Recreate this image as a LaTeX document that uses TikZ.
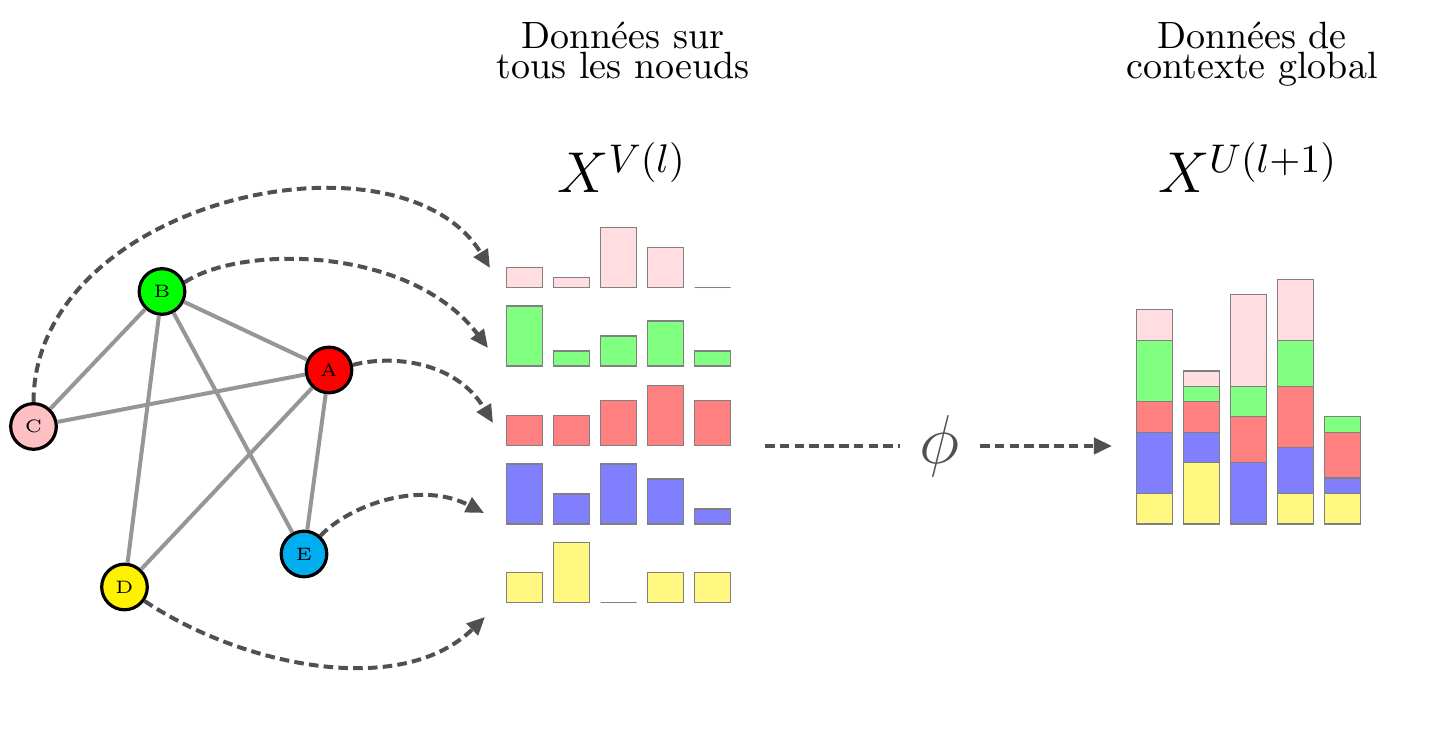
\documentclass[tikz,border=0pt]{standalone}
\usetikzlibrary{arrows.meta}
\definecolor{cpink}{RGB}{255,192,196}
\definecolor{barpink}{RGB}{255,221,225}
\definecolor{bargreen}{RGB}{128,255,128}
\definecolor{barred}{RGB}{255,128,128}
\definecolor{barblue}{RGB}{128,128,255}
\definecolor{baryellow}{RGB}{255,247,128}
\definecolor{nodeyellow}{RGB}{255,242,0}
\definecolor{nodecyan}{RGB}{0,174,239}
\definecolor{edgegray}{RGB}{150,150,150}
\definecolor{flowgray}{RGB}{80,80,80}
\begin{document}
\begin{tikzpicture}[x=0.25pt,y=-0.25pt,
  vertex/.style={circle,draw=black,line width=0.8pt,minimum size=11.4pt,inner sep=0pt,font=\fontsize{4.5}{5}\selectfont},
  edge/.style={draw=edgegray,line width=1pt},
  flow/.style={draw=flowgray,line width=1pt,dash pattern=on 2.4pt off 1.3pt},
  flowtip/.style={-{Triangle[length=4.5pt,width=4pt]}},
  bar/.style={draw=gray,line width=0.3pt},
  title/.style={align=center,inner sep=0pt,anchor=north,font=\fontsize{9.5}{7.6}\selectfont},
  mathlabel/.style={inner sep=0pt,anchor=base,font=\fontsize{14}{16}\selectfont}
]
\useasboundingbox (0,0) rectangle (1429,755);

% titles
\node[title] (t1) at (623,21) {Données sur\\tous les noeuds};
\node[title] (t2) at (1252,21) {Données de\\contexte global};
\node[mathlabel] (xv) at (622,193) {$X^{V(l)}$};
\node[mathlabel] (xu) at (1248,193) {$X^{U(l+1)}$};

% graph nodes
\node[vertex,fill=red] (A) at (329,370) {A};
\node[vertex,fill=green] (B) at (162,291.5) {B};
\node[vertex,fill=cpink] (C) at (33.5,426.5) {C};
\node[vertex,fill=nodeyellow] (D) at (124.5,587) {D};
\node[vertex,fill=nodecyan] (E) at (304,554) {E};

% graph edges
\draw[edge] (B) -- (C);
\draw[edge] (B) -- (D);
\draw[edge] (B) -- (E);
\draw[edge] (B) -- (A);
\draw[edge] (A) -- (C);
\draw[edge] (A) -- (D);
\draw[edge] (A) -- (E);

% per-node feature bars
\foreach \v [count=\i from 0] in {2,1,6,4,0}
  \draw[bar,fill=barpink] ({506.7+47*\i},287.7) rectangle ++(36,{-10*\v});
\foreach \v [count=\i from 0] in {4,1,2,3,1}
  \draw[bar,fill=bargreen] ({506.7+47*\i},366) rectangle ++(36,{-15*\v});
\foreach \v [count=\i from 0] in {2,2,3,4,3}
  \draw[bar,fill=barred] ({506.7+47*\i},445.3) rectangle ++(36,{-15*\v});
\foreach \v [count=\i from 0] in {4,2,4,3,1}
  \draw[bar,fill=barblue] ({506.7+47*\i},524) rectangle ++(36,{-15*\v});
\foreach \v [count=\i from 0] in {2,4,0,2,2}
  \draw[bar,fill=baryellow] ({506.7+47*\i},602.3) rectangle ++(36,{-15*\v});

% stacked global bars
\foreach \i/\a/\b/\c/\d/\e in {0/2/4/2/4/2,1/4/2/2/1/1,2/0/4/3/2/6,3/2/3/4/3/4,4/2/1/3/1/0}{
  \draw[bar,fill=baryellow] ({1136.7+47*\i},524) rectangle ++(36,{-15.3*\a});
  \draw[bar,fill=barblue] ({1136.7+47*\i},{524-15.3*\a}) rectangle ++(36,{-15.3*\b});
  \draw[bar,fill=barred] ({1136.7+47*\i},{524-15.3*(\a+\b)}) rectangle ++(36,{-15.3*\c});
  \draw[bar,fill=bargreen] ({1136.7+47*\i},{524-15.3*(\a+\b+\c)}) rectangle ++(36,{-15.3*\d});
  \ifnum\e>0
  \draw[bar,fill=barpink] ({1136.7+47*\i},{524-15.3*(\a+\b+\c+\d)}) rectangle ++(36,{-15.3*\e});
  \fi
}

% flows from nodes to their feature rows
\coordinate (f1) at (490,268);
\coordinate (f2) at (488,348);
\coordinate (f3) at (493,423);
\coordinate (f4) at (484,513);
\coordinate (f5) at (485,617);
\draw[flow,flowtip] (C.north) .. controls (34,200) and (400,120) .. (f1);
\draw[flow,flowtip] (B.22) .. controls (240,245) and (410,245) .. (f2);
\draw[flow,flowtip] (A.12) .. controls (390,355) and (455,360) .. (f3);
\draw[flow,flowtip] (E.48) .. controls (350,505) and (420,480) .. (f4);
\draw[flow,flowtip] (D.-35) .. controls (240,665) and (400,700) .. (f5);

% aggregation phi
\node[inner sep=4.8pt,text=flowgray,font=\fontsize{16}{18}\selectfont] (phi) at (940,446) {$\phi$};
\coordinate (hs) at (765,446);
\coordinate (he) at (1112,446);
\draw[flow] (hs) -- (phi.west);
\draw[flow,flowtip] (phi.east) -- (he);
\end{tikzpicture}
\end{document}
